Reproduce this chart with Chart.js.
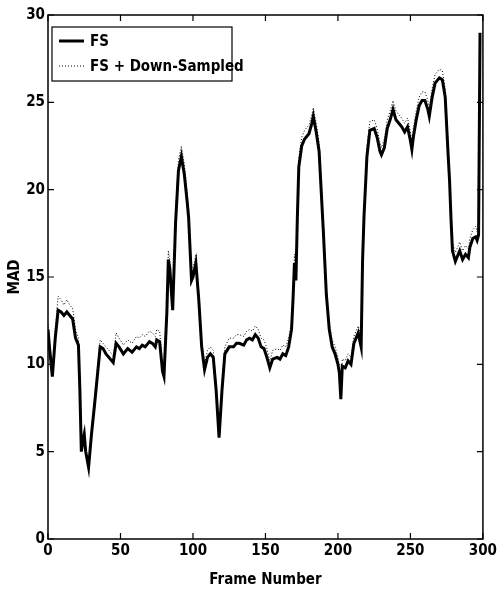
<!DOCTYPE html>
<html>
<head>
<meta charset="utf-8">
<script src="https://cdn.jsdelivr.net/npm/chart.js@4"></script>
<style>
  html, body { margin: 0; padding: 0; background: #fff; }
  #wrap { width: 500px; height: 589px; }
</style>
</head>
<body>
<div id="wrap"><canvas id="madChart" width="500" height="589"></canvas></div>
<script>
const frames = [0, 1, 3, 5, 7, 9, 11, 13, 15, 17, 19, 21, 22, 23, 24, 25, 26, 28, 30, 32, 34, 36, 38, 40, 42, 44, 45, 47, 49, 52, 55, 58, 61, 63, 65, 67, 70, 72, 74, 75, 77, 79, 80, 82, 83, 84, 86, 88, 90, 92, 94, 96, 97, 99, 100, 102, 104, 106, 108, 110, 112, 114, 116, 118, 120, 122, 125, 128, 130, 132, 135, 137, 139, 141, 143, 145, 147, 149, 151, 153, 155, 158, 160, 162, 164, 166, 168, 169, 170, 171, 172, 173, 175, 177, 180, 182, 183, 185, 187, 190, 192, 194, 196, 198, 200, 201, 202, 203, 205, 207, 209, 211, 213, 214, 216, 217, 218, 220, 222, 225, 227, 229, 230, 232, 234, 236, 238, 240, 242, 244, 246, 248, 250, 251, 252, 254, 256, 258, 260, 262, 263, 265, 267, 270, 272, 274, 276, 277, 278, 279, 281, 283, 284, 286, 288, 290, 291, 293, 295, 296, 297, 298, 299];

const fsValues = [12.0, 11.0, 9.3, 11.5, 13.1, 13.0, 12.8, 13.0, 12.8, 12.6, 11.5, 11.1, 8.5, 5.0, 5.6, 6.0, 5.0, 4.1, 6.0, 7.6, 9.3, 11.0, 10.9, 10.6, 10.4, 10.2, 10.1, 11.2, 11.0, 10.6, 10.9, 10.7, 11.0, 10.9, 11.1, 11.0, 11.3, 11.2, 11.0, 11.4, 11.3, 9.6, 9.3, 13.0, 16.0, 15.5, 13.1, 18.1, 21.1, 21.9, 20.9, 19.3, 18.4, 14.8, 15.0, 15.8, 13.7, 11.0, 9.7, 10.4, 10.6, 10.4, 8.5, 5.8, 8.5, 10.6, 11.0, 11.0, 11.2, 11.2, 11.1, 11.4, 11.5, 11.4, 11.7, 11.5, 11.0, 10.9, 10.4, 9.8, 10.3, 10.4, 10.3, 10.6, 10.5, 11.0, 12.0, 13.7, 15.8, 14.8, 18.4, 21.3, 22.5, 22.9, 23.2, 23.8, 24.2, 23.3, 22.2, 17.5, 14.0, 12.0, 11.0, 10.6, 10.0, 9.5, 8.0, 9.9, 9.8, 10.2, 10.0, 11.2, 11.6, 11.8, 11.0, 16.0, 18.5, 21.9, 23.4, 23.5, 23.0, 22.2, 22.0, 22.4, 23.5, 24.0, 24.6, 24.0, 23.8, 23.6, 23.3, 23.6, 22.8, 22.3, 23.0, 24.0, 24.8, 25.1, 25.1, 24.6, 24.2, 25.3, 26.1, 26.4, 26.3, 25.3, 22.0, 20.5, 18.3, 16.5, 15.9, 16.3, 16.5, 16.0, 16.3, 16.1, 16.7, 17.2, 17.3, 17.1, 17.4, 28.9, 28.9];

const dsValues = [12.3, 11.3, 9.5, 12.0, 13.9, 13.7, 13.4, 13.7, 13.4, 13.2, 12.0, 11.5, 8.8, 5.3, 6.0, 6.3, 5.3, 4.3, 6.3, 8.0, 9.7, 11.4, 11.2, 11.0, 10.8, 10.6, 10.5, 11.8, 11.5, 11.1, 11.4, 11.2, 11.6, 11.5, 11.7, 11.6, 11.9, 11.8, 11.6, 12.0, 11.9, 10.0, 9.6, 13.5, 16.5, 16.0, 13.5, 18.7, 21.7, 22.5, 21.5, 19.8, 18.9, 15.2, 15.5, 16.3, 14.1, 11.4, 10.0, 10.8, 11.0, 10.8, 8.8, 6.0, 8.9, 11.0, 11.5, 11.5, 11.7, 11.7, 11.6, 11.9, 12.0, 11.9, 12.2, 12.0, 11.5, 11.4, 10.9, 10.2, 10.8, 10.9, 10.8, 11.1, 11.0, 11.5, 12.4, 14.1, 16.3, 15.2, 18.9, 21.8, 23.0, 23.4, 23.7, 24.3, 24.7, 23.8, 22.7, 18.0, 14.4, 12.4, 11.4, 11.0, 10.4, 9.9, 8.3, 10.3, 10.2, 10.6, 10.4, 11.6, 12.0, 12.2, 11.4, 16.5, 19.0, 22.4, 23.9, 24.0, 23.5, 22.7, 22.4, 22.9, 24.0, 24.5, 25.1, 24.5, 24.3, 24.1, 23.8, 24.1, 23.3, 22.7, 23.5, 24.5, 25.3, 25.6, 25.6, 25.1, 24.7, 25.8, 26.6, 26.9, 26.8, 25.8, 22.5, 21.0, 18.8, 17.0, 16.4, 16.8, 17.0, 16.5, 16.8, 16.6, 17.2, 17.7, 17.9, 17.6, 17.9, 29.0, 29.0];

const xTicks = [0, 50, 100, 150, 200, 250, 300];
const yTicks = [0, 5, 10, 15, 20, 25, 30];

const FONT = '"DejaVu Sans Condensed", "Liberation Sans", Arial, sans-serif';

const fsPoints = frames.map((f, i) => ({ x: f, y: fsValues[i] }));
const dsPoints = frames.map((f, i) => ({ x: f, y: dsValues[i] }));

// matlab-like box, inward ticks and legend
const matlabFrame = {
  id: 'matlabFrame',
  afterDraw(chart) {
    const ctx = chart.ctx;
    const a = chart.chartArea;
    const xs = chart.scales.x, ys = chart.scales.y;
    ctx.save();
    ctx.strokeStyle = '#000';
    ctx.lineWidth = 1.5;
    ctx.strokeRect(a.left, a.top, a.right - a.left, a.bottom - a.top);
    ctx.lineWidth = 1.2;
    ctx.beginPath();
    xTicks.forEach(v => {
      const px = xs.getPixelForValue(v);
      ctx.moveTo(px, a.bottom); ctx.lineTo(px, a.bottom - 6);
      ctx.moveTo(px, a.top); ctx.lineTo(px, a.top + 6);
    });
    yTicks.forEach(v => {
      const py = ys.getPixelForValue(v);
      ctx.moveTo(a.left, py); ctx.lineTo(a.left + 6, py);
      ctx.moveTo(a.right, py); ctx.lineTo(a.right - 6, py);
    });
    ctx.stroke();

    // legend
    const bx = 52, by = 27, bw = 180, bh = 54;
    ctx.fillStyle = '#fff';
    ctx.fillRect(bx, by, bw, bh);
    ctx.lineWidth = 1.2;
    ctx.strokeRect(bx, by, bw, bh);
    const ds = chart.data.datasets;
    const rows = [41, 66];
    ds.forEach((d, i) => {
      ctx.beginPath();
      ctx.strokeStyle = '#000';
      ctx.lineWidth = d.borderWidth;
      ctx.setLineDash(d.borderDash || []);
      ctx.moveTo(59, rows[i]); ctx.lineTo(84, rows[i]);
      ctx.stroke();
      ctx.setLineDash([]);
      ctx.fillStyle = '#000';
      ctx.font = 'bold 15px ' + FONT;
      ctx.textBaseline = 'middle';
      ctx.textAlign = 'left';
      ctx.fillText(d.label, 90, rows[i] + 1);
    });
    ctx.restore();
  }
};

new Chart(document.getElementById('madChart'), {
  type: 'line',
  data: {
    datasets: [
      {
        label: 'FS',
        data: fsPoints,
        borderColor: '#000',
        borderWidth: 3,
        pointRadius: 0,
        tension: 0,
        fill: false
      },
      {
        label: 'FS + Down-Sampled',
        data: dsPoints,
        borderColor: '#000',
        borderWidth: 1,
        borderDash: [1, 2],
        pointRadius: 0,
        tension: 0,
        fill: false
      }
    ]
  },
  options: {
    responsive: false,
    animation: false,
    layout: { padding: { top: 15, right: 15, left: 6, bottom: 0 } },
    plugins: {
      legend: { display: false },
      tooltip: { enabled: false }
    },
    scales: {
      x: {
        type: 'linear',
        min: 0,
        max: 300,
        afterBuildTicks: s => { s.ticks = xTicks.map(v => ({ value: v })); },
        afterFit: s => { s.height = 50; },
        grid: { display: false, drawTicks: false },
        border: { display: false },
        ticks: {
          color: '#000',
          padding: 3,
          maxRotation: 0,
          font: { family: FONT, size: 15, weight: 'bold' }
        },
        title: {
          display: true,
          text: 'Frame Number',
          color: '#000',
          padding: { top: 3, bottom: 0 },
          font: { family: FONT, size: 15, weight: 'bold' }
        }
      },
      y: {
        type: 'linear',
        min: 0,
        max: 30,
        afterBuildTicks: s => { s.ticks = yTicks.map(v => ({ value: v })); },
        afterFit: s => { s.width = 42; },
        grid: { display: false, drawTicks: false },
        border: { display: false },
        ticks: {
          color: '#000',
          padding: 3,
          font: { family: FONT, size: 15, weight: 'bold' }
        },
        title: {
          display: true,
          text: 'MAD',
          color: '#000',
          padding: { top: 0, bottom: 0 },
          font: { family: FONT, size: 15, weight: 'bold' }
        }
      }
    }
  },
  plugins: [matlabFrame]
});
</script>
</body>
</html>
